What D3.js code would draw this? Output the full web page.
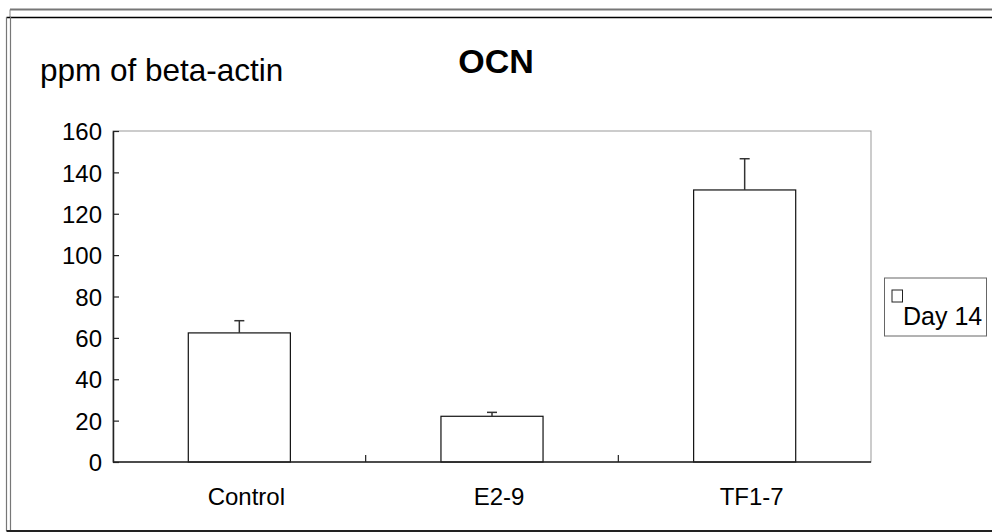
<!DOCTYPE html>
<html>
<head>
<meta charset="utf-8">
<script src="https://cdn.jsdelivr.net/npm/d3@7/dist/d3.min.js"></script>
<style>
  html, body { margin: 0; padding: 0; background: #fff; }
  svg { display: block; font-family: "Liberation Sans", Arial, sans-serif; }
</style>
</head>
<body>
<svg id="chart" width="992" height="532"></svg>
<script>
const categories = ["Control", "E2-9", "TF1-7"];
const day14Values = [62.4, 22.1, 131.5];
const day14ErrorTop = [68.3, 24.0, 146.6];
const yTicks = [0, 20, 40, 60, 80, 100, 120, 140, 160];
const seriesName = "Day 14";
const chartTitle = "OCN";
const yAxisTitle = "ppm of beta-actin";

const svg = d3.select("#chart");
const W = 992, H = 532;
const plot = { left: 113, right: 871, top: 131, bottom: 462 };

// Outer frame
const frame = svg.append("g");
frame.append("line").attr("x1", 10).attr("x2", W).attr("y1", 9.5).attr("y2", 9.5)
  .attr("stroke", "#777").attr("stroke-width", 2);
frame.append("line").attr("x1", 10).attr("x2", 10).attr("y1", 9.5).attr("y2", 17)
  .attr("stroke", "#888").attr("stroke-width", 1);
frame.append("line").attr("x1", 6.5).attr("x2", W).attr("y1", 17.5).attr("y2", 17.5)
  .attr("stroke", "#000").attr("stroke-width", 1.5);
frame.append("line").attr("x1", 6.5).attr("x2", 6.5).attr("y1", 17).attr("y2", 531)
  .attr("stroke", "#777").attr("stroke-width", 1.2);
frame.append("line").attr("x1", 10.5).attr("x2", 10.5).attr("y1", 17).attr("y2", 531)
  .attr("stroke", "#777").attr("stroke-width", 1.2);
frame.append("line").attr("x1", 6.5).attr("x2", W).attr("y1", 531).attr("y2", 531)
  .attr("stroke", "#222").attr("stroke-width", 2);

// Scales
const x = d3.scaleBand().domain(categories)
  .range([plot.left, plot.right]).paddingInner(0.596).paddingOuter(0.298);
const slots = d3.scaleBand().domain(categories).range([plot.left, plot.right]).padding(0);
const y = d3.scaleLinear().domain([0, 160]).range([plot.bottom, plot.top]);

// Plot border (gray)
svg.append("rect")
  .attr("x", plot.left).attr("y", plot.top)
  .attr("width", plot.right - plot.left).attr("height", plot.bottom - plot.top)
  .attr("fill", "none").attr("stroke", "#999").attr("stroke-width", 1);

// Bars
svg.append("g").selectAll("rect").data(categories).join("rect")
  .attr("x", d => x(d))
  .attr("y", (d, i) => y(day14Values[i]))
  .attr("width", x.bandwidth())
  .attr("height", (d, i) => y(0) - y(day14Values[i]))
  .attr("fill", "#fff").attr("stroke", "#111").attr("stroke-width", 1.2);

// Error bars (upper only)
const eb = svg.append("g").attr("stroke", "#333").attr("stroke-width", 1.5);
categories.forEach((c, i) => {
  const cx = x(c) + x.bandwidth() / 2;
  eb.append("line").attr("x1", cx).attr("x2", cx)
    .attr("y1", y(day14Values[i])).attr("y2", y(day14ErrorTop[i]));
  eb.append("line").attr("x1", cx - 5).attr("x2", cx + 5)
    .attr("y1", y(day14ErrorTop[i])).attr("y2", y(day14ErrorTop[i]));
});

// Y axis
const yAxis = d3.axisLeft(y).tickValues(yTicks).tickSizeInner(-6).tickSizeOuter(0).tickPadding(11);
const yg = svg.append("g").attr("transform", `translate(${plot.left},0)`).call(yAxis);
yg.select(".domain").attr("stroke", "#222").attr("stroke-width", 1.5);
yg.selectAll(".tick line").attr("stroke", "#222").attr("stroke-width", 1.2);
yg.selectAll(".tick text").attr("font-size", 24).attr("fill", "#000")
  .attr("font-family", "Liberation Sans, Arial, sans-serif").attr("dy", "0.36em");

// X axis line
svg.append("line").attr("x1", plot.left).attr("x2", plot.right)
  .attr("y1", plot.bottom).attr("y2", plot.bottom)
  .attr("stroke", "#222").attr("stroke-width", 1.5);
// category boundary ticks (pointing up, inside)
const boundaries = categories.map(c => slots(c)).concat([plot.right]);
svg.append("g").selectAll("line").data(boundaries.slice(1, -1)).join("line")
  .attr("x1", d => d).attr("x2", d => d)
  .attr("y1", plot.bottom).attr("y2", plot.bottom - 7)
  .attr("stroke", "#222").attr("stroke-width", 1.2);

// Category labels
svg.append("g").selectAll("text").data(categories).join("text")
  .attr("x", d => x(d) + x.bandwidth() / 2 + 7)
  .attr("y", 505)
  .attr("text-anchor", "middle")
  .attr("font-size", 24)
  .attr("fill", "#000")
  .text(d => d);

// Titles
svg.append("text").attr("x", 496).attr("y", 73).attr("text-anchor", "middle")
  .attr("font-size", 34).attr("font-weight", "bold").text(chartTitle);
svg.append("text").attr("x", 40).attr("y", 81)
  .attr("font-size", 31.5).text(yAxisTitle);

// Legend
const lg = svg.append("g");
lg.append("rect").attr("x", 884.5).attr("y", 278).attr("width", 102).attr("height", 58)
  .attr("fill", "#fff").attr("stroke", "#666").attr("stroke-width", 1);
lg.append("rect").attr("x", 892).attr("y", 290).attr("width", 10.5).attr("height", 12)
  .attr("fill", "#fff").attr("stroke", "#222").attr("stroke-width", 1);
lg.append("text").attr("x", 903).attr("y", 325).attr("font-size", 25).text(seriesName);
</script>
</body>
</html>
